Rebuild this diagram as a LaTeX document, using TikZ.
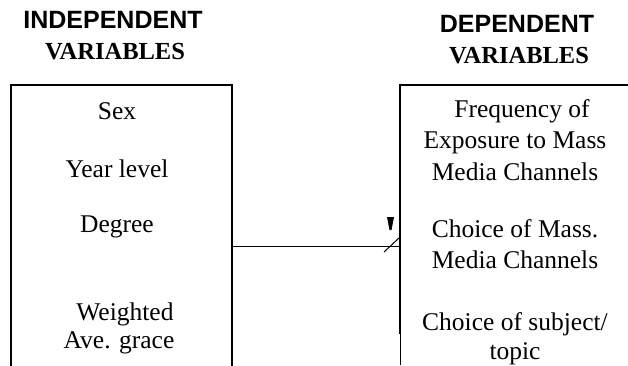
\documentclass[tikz,border=0pt]{standalone}
\usepackage{fontspec}
\setmainfont{Liberation Serif}
\newfontfamily\headsans{Liberation Sans}

\tikzset{
  item/.style={inner sep=0pt, anchor=base, font=\fontsize{25.5}{30}\selectfont},
  headtop/.style={inner sep=0pt, anchor=base, font=\headsans\bfseries\fontsize{25}{30}\selectfont},
  headbot/.style={inner sep=0pt, anchor=base, font=\bfseries\fontsize{24.5}{30}\selectfont},
  frame/.style={line width=2pt, line cap=rect},
  link/.style={line width=1pt}
}

\begin{document}
\begin{tikzpicture}[x=1pt, y=-1pt]
  \useasboundingbox (0, 0) rectangle (628, 365);

  % headings
  \node[headtop] (indtop) at (113, 28) {INDEPENDENT};
  \node[headbot] (indbot) at (115, 59) {VARIABLES};
  \node[headtop] (deptop) at (517, 32) {DEPENDENT};
  \node[headbot] (depbot) at (519, 63) {VARIABLES};

  % boxes, open at the bottom
  \draw[frame] (11, 365) -- (11, 85) -- (232, 85) -- (232, 365);
  \draw[frame] (400, 333) -- (400, 85) -- (628, 85);
  \draw[line width=1pt] (400, 333) -- (400, 365);

  % independent variables
  \node[item] (sex) at (117, 119) {Sex};
  \node[item] (year) at (117, 177) {Year level};
  \node[item] (degree) at (117, 232) {Degree};
  \node[item] (wgt) at (125, 320) {Weighted};
  \node[item] (ave) at (119, 348) {Ave. grace};

  % dependent variables
  \node[item] (freq1) at (522, 117) {Frequency of};
  \node[item] (freq2) at (515, 148) {Exposure to Mass};
  \node[item] (freq3) at (515, 180) {Media Channels};
  \node[item] (chan1) at (515, 237) {Choice of Mass.};
  \node[item] (chan2) at (515, 268) {Media Channels};
  \node[item] (subj1) at (515, 330) {Choice of subject/};
  \node[item] (subj2) at (515, 359) {topic};

  % connector
  \coordinate (from) at (233, 246);
  \coordinate (to) at (399, 246);
  \coordinate (barb) at (384, 252);
  \coordinate (tip) at (399, 238);
  \draw[link] (from) -- (to);
  \draw[link] (barb) -- (tip);
  \fill (387, 217) -- (394, 217) -- (391.5, 230) -- (389.5, 230) -- cycle;
\end{tikzpicture}
\end{document}
